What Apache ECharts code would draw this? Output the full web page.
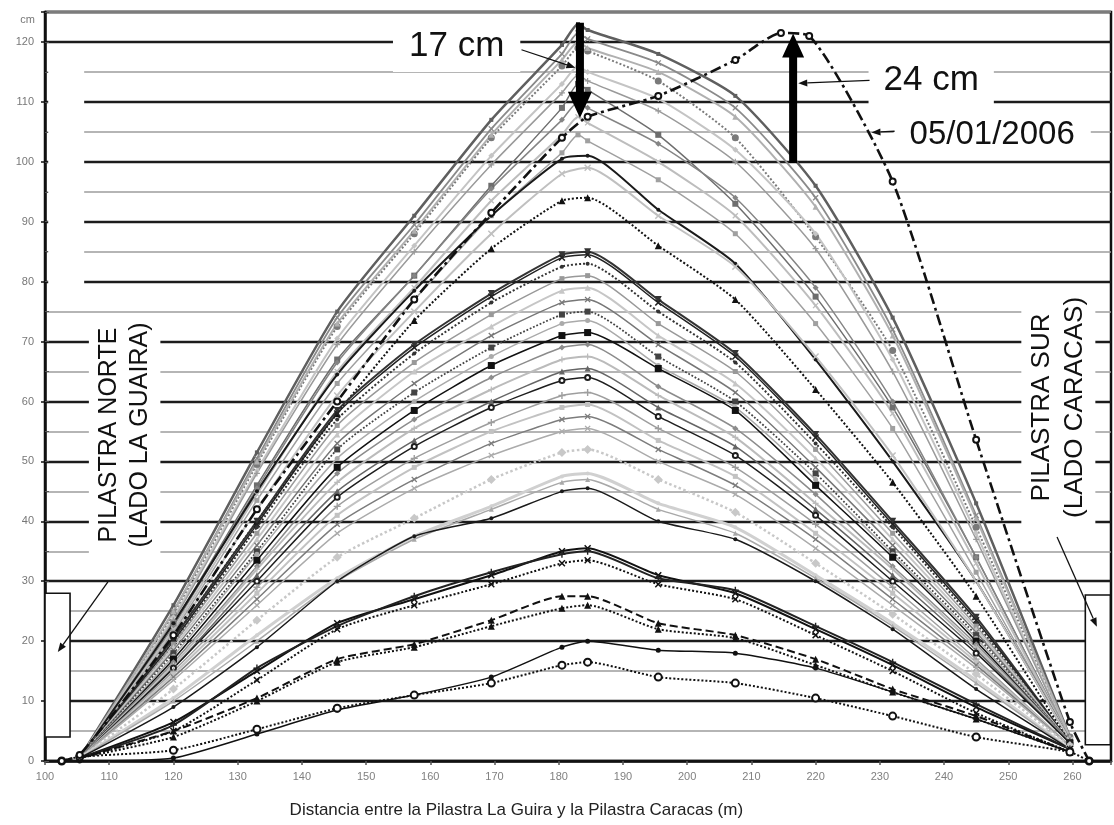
<!DOCTYPE html>
<html><head><meta charset="utf-8">
<script src="https://cdn.jsdelivr.net/npm/echarts@6/dist/echarts.min.js"></script>
<style>html,body{margin:0;padding:0;background:#fff}#c{width:1114px;height:825px}</style>
</head><body><div id="c"></div>
<script>
// ---------------- DATA ----------------
const X_POS = [102.6, 105.4, 120, 133, 145.5, 157.5, 169.5, 180.5, 183, 184.5, 195.5, 207.5, 220, 232, 245, 259.6, 262.6];
const X_TICKS = [100,110,120,130,140,150,160,170,180,190,200,210,220,230,240,250,260];
const Y_TICKS = [0,10,20,30,40,50,60,70,80,90,100,110,120];

const s01 = [null, 0.5, 26, 51.5, 75, 91, 107, 119.5, 123, 122, 118, 111, 96, 74, 43, 4, null];
const s02 = [null, 0.5, 25, 50.5, 74, 89.5, 105.5, 118, 121.5, 120.5, 116.5, 109, 94, 72, 41, 4, null];
const s03 = [null, 0.5, 24.5, 49.5, 72.5, 88, 104, 116, 119, 118.5, 113.5, 104, 87.5, 68.5, 39, 4, null];
const s04 = [null, 0.5, 25, 50, 73, 88.5, 104.5, 117, 120, 119, 115, 107.5, 92.5, 71, 40.5, 4, null];
const s05 = [null, 0.5, 23, 46, 67, 81, 96, 109, 113, 112, 104.5, 93, 77.5, 59, 34, 3.5, null];
const s06 = [null, 0.5, 24, 48.5, 70.5, 86, 101, 113, 116, 115, 110.5, 102, 88, 67, 38, 3.5, null];
const s07 = [null, 0.5, 23.5, 48, 69.5, 85, 99.5, 111.5, 114.5, 113.5, 108.5, 100, 85.5, 65, 37, 3.5, null];
const s08 = [null, 0.5, 22.5, 45.5, 66.5, 81, 95.5, 107, 110, 109, 103, 94, 79, 60, 34, 3.5, null];
const s09 = [null, 0.5, 22, 44.5, 65, 79, 93.5, 104.5, 107.5, 106.5, 100, 91, 76, 58, 33, 3.5, null];
const s10 = [null, 0.5, 21.5, 43.5, 63, 77, 91, 101.5, 104.5, 103.5, 97, 88, 73, 55.5, 31.5, 3.5, null];
const s11 = [null, 0.5, 23, 45, 64.5, 78.5, 91, 100.5, null, 101, 92, 83, 67, 50, 30, 3.5, null];
const s12 = [null, 0.5, 21, 42, 61, 75, 88, 98, null, 99, 91, 82.5, 67.5, 51, 30, 3.5, null];
const s13 = [null, 0.5, 20.5, 40, 58, 73.5, 85.5, 93.5, null, 94, 86, 77, 62, 46.5, 27.5, 3, null];
const s14 = [null, 0.5, 20.5, 40, 58.5, 69.5, 78, 84.5, null, 85, 77, 68, 54.5, 40, 24, 3, null];
const s15 = [null, 0.5, 20, 39.5, 58, 69, 77.5, 84, null, 84.5, 76.5, 67.5, 54, 39.5, 23.5, 3, null];
const s16 = [null, 0.5, 19.5, 39, 57, 68, 76.5, 82.5, null, 83, 75, 66.5, 53, 39, 23, 3, null];
const s17 = [null, 0.5, 19.5, 38, 56, 66.5, 74.5, 80.5, null, 81, 73, 65, 52, 38, 22.5, 3, null];
const s18 = [null, 0.5, 19, 37, 54.5, 65, 72.5, 78.5, null, 79, 71, 63, 50.5, 37, 22, 3, null];
const s19 = [null, 0.5, 18.5, 36, 53, 63, 71, 76.5, null, 77, 69.5, 61.5, 49, 36, 21.5, 3, null];
const s20 = [null, 0.5, 18, 35, 52, 61.5, 69, 74.5, null, 75, 67.5, 60, 48, 35, 21, 3, null];
const s21 = [null, 0.5, 17.5, 34.5, 50.5, 60, 67.5, 73, null, 73.5, 66, 59, 47, 34.5, 20.5, 3, null];
const s22 = [null, 0.5, 17, 33.5, 49, 58.5, 66, 71, null, 71.5, 65.5, 58.5, 46, 34, 20, 3, null];
const s23 = [null, 0.5, 16.5, 32.5, 48, 57, 64, 69, null, 69.5, 62.5, 55.5, 44.5, 32.5, 19.5, 3, null];
const s24 = [null, 0.5, 16, 32, 46.5, 55.5, 62, 67, null, 67.5, 61, 54, 43, 32, 19, 3, null];
const s25 = [null, 0.5, 15.5, 31, 45, 53.5, 60, 65, null, 65.5, 59, 52.5, 42, 31, 18.5, 3, null];
const s26 = [null, 0.5, 15.5, 30, 44, 52.5, 59, 63.5, null, 64, 57.5, 51, 41, 30, 18, 3, null];
const s27 = [null, 0.5, 15, 29, 42.5, 50.5, 56.5, 61, null, 61.5, 55.5, 49, 39.5, 29, 17, 2.5, null];
const s28 = [null, 0.5, 14.5, 28, 41, 49, 55, 59, null, 59.5, 53.5, 47.5, 38, 28, 16.5, 2.5, null];
const s29 = [null, 0.5, 14, 27, 39.5, 47, 53, 57, null, 57.5, 52, 46, 37, 27, 16, 2.5, null];
const s30 = [null, 0.5, 13.5, 26, 38, 45.5, 51, 55, null, 55.5, 50, 44.5, 35.5, 26, 15.5, 2.5, null];
const s31 = [null, 0.5, 12, 23.5, 34, 40.5, 47, 51.5, null, 52, 47, 41.5, 33, 24.5, 14.5, 2.5, null];
const s32 = [null, 0.5, 10.5, 21, 30.5, 37.5, 42.5, 47.5, null, 48, 43, 39, 31, 23, 13.5, 2, null];
const s33 = [null, 0.5, 10, 20, 30, 37, 42, 46.5, null, 47, 42, 38, 30.5, 22.5, 13, 2, null];
const s34 = [null, 0.5, 9, 19, 30, 37.5, 40.5, 45, null, 45.5, 40, 37, 30, 22, 12, 2, null];
const s35 = [null, 0.5, 6.5, 15, 23, 27, 31, 35, null, 35.5, 31, 28, 22, 16, 9, 2, null];
const s36 = [null, 0.5, 6, 15.5, 22.5, 27.5, 31.5, 34.5, null, 35, 30.5, 28.5, 22.5, 16.5, 9.5, 2, null];
const s37 = [null, 0.5, 5, 13.5, 22, 26, 29.5, 33, null, 33.5, 29.5, 27, 21, 15, 8, 1.5, null];
const s38 = [null, 0.5, 5, 10.5, 17, 19.5, 23.5, 27.5, null, 27.5, 23, 21, 17, 12, 7.5, 1.5, null];
const s39 = [null, 0.5, 4, 10, 16.5, 19, 22.5, 25.5, null, 26, 22, 20.5, 16, 11.5, 7, 1.5, null];
const s40 = [null, 0, 0.5, 4.5, 8.5, 11, 14, 19, null, 20, 18.5, 18, 15.5, 11.5, 7, 1.5, null];
const s41 = [0, 0.7, 1.8, 5.3, 8.8, 11, 13, 16, null, 16.5, 14, 13, 10.5, 7.5, 4, 1.5, 0];

const X_0501 = [102.6, 105.4, 120, 133, 145.5, 157.5, 169.5, 180.5, 184.5, 195.5, 207.5, 214.6, 219, 232, 245, 259.6, 262.6];
const v0501  = [0, 1, 21, 42, 60, 77, 91.5, 104, 107.5, 111, 117, 121.5, 121, 96.7, 53.6, 6.5, 0];

// ---------------- STYLES (separate from data) ----------------
const XSYM = 'path://M0,1.5L1.5,0L5,3.5L8.5,0L10,1.5L6.5,5L10,8.5L8.5,10L5,6.5L1.5,10L0,8.5L3.5,5Z';
const PSYM = 'path://M4,0H6V4H10V6H6V10H4V6H0V4H4Z';
const TDOWN = 'path://M0,0H10L5,9Z';
const SERIES_VALUES = [s01,s02,s03,s04,s05,s06,s07,s08,s09,s10,s11,s12,s13,s14,s15,s16,s17,s18,s19,s20,s21,s22,s23,s24,s25,s26,s27,s28,s29,s30,s31,s32,s33,s34,s35,s36,s37,s38,s39,s40,s41];
const STYLES = [
 ['#5f5f5f',2.5,'solid','rect',4],
 ['#8a8a8a',1.8,'solid',XSYM,6],
 ['#7a7a7a',2,'dotted','circle',7],
 ['#b0b0b0',2,'solid','triangle',6],
 ['#6e6e6e',1.5,'solid','rect',6],
 ['#c4c4c4',2,'solid','diamond',6],
 ['#9a9a9a',1.5,'solid',PSYM,6],
 ['#858585',1.5,'solid','diamond',6],
 ['#bdbdbd',2,'solid',XSYM,6],
 ['#a0a0a0',1.5,'solid','rect',5],
 ['#1a1a1a',2,'solid','circle',4],
 ['#c0c0c0',2,'solid',XSYM,7],
 ['#111111',2,'dotted','triangle',7],
 ['#333333',2,'solid',TDOWN,7],
 ['#222222',1.5,'solid',XSYM,7],
 ['#333333',2,'dotted','circle',4],
 ['#999999',1.5,'solid','rect',5],
 ['#c6c6c6',2,'solid','triangle',6],
 ['#777777',1.5,'solid',XSYM,6],
 ['#444444',1.8,'dotted','rect',6],
 ['#aaaaaa',1.5,'solid','circle',5],
 ['#111111',1.5,'solid','rect',7],
 ['#8c8c8c',1.5,'solid','diamond',6],
 ['#bbbbbb',2,'solid',PSYM,6],
 ['#666666',1.5,'solid','triangle',6],
 ['#1e1e1e',1.5,'solid','emptyCircle',5],
 ['#9e9e9e',1.5,'solid',PSYM,7],
 ['#c2c2c2',2,'solid','rect',5],
 ['#7c7c7c',1.5,'solid',XSYM,6],
 ['#ababab',1.5,'solid',XSYM,6],
 ['#c8c8c8',2.5,'dotted','diamond',9],
 ['#d0d0d0',3,'solid','circle',4],
 ['#a8a8a8',1.5,'solid','triangle',5],
 ['#1a1a1a',1.5,'solid','circle',4],
 ['#111111',2,'solid',XSYM,7],
 ['#222222',2,'solid',PSYM,7],
 ['#111111',2,'dotted',XSYM,7],
 ['#111111',2,'dashed','triangle',7],
 ['#111111',2,'dotted','triangle',7],
 ['#111111',1.5,'solid','circle',5],
 ['#111111',2,'dotted','emptyCircle',7]
];
const FONT = '"Liberation Sans", Arial, sans-serif';

function pairs(xs, ys){ const out=[]; xs.forEach((x,i)=>{ if(ys[i]!=null) out.push([x, ys[i]]); }); return out; }

const series = SERIES_VALUES.map((vals,i)=>{
  const st = STYLES[i];
  return {type:'line', name:'S'+(i+1), data:pairs(X_POS, vals), smooth:0.2,
    symbol:st[3], symbolSize:st[4], showSymbol:true, silent:true,
    lineStyle:{color:st[0], width:st[1], type:st[2]},
    itemStyle:{color:st[0]}, z:2};
});
series.push({type:'line', name:'05/01/2006', data:pairs(X_0501, v0501), smooth:0.2,
  symbol:'emptyCircle', symbolSize:6, silent:true,
  lineStyle:{color:'#111', width:2.6, type:[11,4,3,4]}, itemStyle:{color:'#111'}, z:3});

const chart = echarts.init(document.getElementById('c'));
chart.setOption({
  animation:false,
  backgroundColor:'#fff',
  grid:{left:45, right:0, top:12, bottom:64, show:true, borderColor:'#111', borderWidth:2.5, containLabel:false},
  xAxis:{type:'value', min:100, max:266, interval:10,
    axisLine:{show:true, onZero:false, lineStyle:{color:'#111', width:2.5}},
    axisTick:{show:true, length:4, lineStyle:{color:'#555', width:1.5}},
    axisLabel:{color:'#808080', fontSize:11, fontFamily:FONT, margin:10,
      formatter:v=> X_TICKS.indexOf(v)>=0 ? String(v) : ''},
    splitLine:{show:false}},
  yAxis:[
    {type:'value', min:0, max:125, interval:10,
     axisLine:{show:true, lineStyle:{color:'#111', width:2.5}},
     axisTick:{show:true, length:4, lineStyle:{color:'#111', width:1.5}},
     axisLabel:{color:'#777', fontSize:11, fontFamily:FONT, margin:11,
       formatter:v=> Y_TICKS.indexOf(v)>=0 ? String(v) : ''},
     splitLine:{show:true, lineStyle:{color:'#1c1c1c', width:2.3}}},
    {type:'value', min:0, max:125, interval:5, position:'left',
     axisLine:{show:false}, axisLabel:{show:false},
     axisTick:{show:true, inside:true, length:4, lineStyle:{color:'#555', width:1}},
     splitLine:{show:true, lineStyle:{color:['rgba(0,0,0,0)','#9c9c9c'], width:1.6}}}
  ],
  series:series
});

// ---------------- ANNOTATIONS ----------------
const P = (x,y)=>chart.convertToPixel({gridIndex:0},[x,y]);
const g = [];
// white gap in grid lines near upper-left axis
(function(){ const a=P(100.5,118.4), b=P(106.1,76.3);
  g.push({type:'rect', shape:{x:a[0], y:a[1], width:b[0]-a[0], height:b[1]-a[1]}, style:{fill:'#fff'}, z:1}); })();

function box(x1,y1,x2,y2){ const a=P(x1,y2), b=P(x2,y1);
  g.push({type:'rect', shape:{x:a[0], y:a[1], width:b[0]-a[0], height:b[1]-a[1]}, style:{fill:'#fff', stroke:'#111', lineWidth:1.6}, z:12}); }
box(100, 4, 103.9, 28);
box(262, 2.7, 265.9, 27.7);

function thinArrow(x1,y1,x2,y2){
  const a=P(x1,y1), b=P(x2,y2);
  const dx=b[0]-a[0], dy=b[1]-a[1], L=Math.hypot(dx,dy), ux=dx/L, uy=dy/L;
  const hl=9, hw=3.5;
  const bx=b[0]-ux*hl, by=b[1]-uy*hl;
  g.push({type:'line', shape:{x1:a[0], y1:a[1], x2:bx, y2:by}, style:{stroke:'#111', lineWidth:1.3}, z:20});
  g.push({type:'polygon', shape:{points:[[b[0],b[1]],[bx-uy*hw,by+ux*hw],[bx+uy*hw,by-ux*hw]]}, style:{fill:'#111'}, z:20});
}
function thickArrow(x, yFrom, yBase, yTip, shaftHalf, headHalf){
  const f=P(x,yFrom), bs=P(x,yBase), t=P(x,yTip); const cx=f[0];
  g.push({type:'polygon', shape:{points:[[cx-shaftHalf,f[1]],[cx+shaftHalf,f[1]],[cx+shaftHalf,bs[1]],[cx+headHalf,bs[1]],[cx,t[1]],[cx-headHalf,bs[1]],[cx-shaftHalf,bs[1]]]}, style:{fill:'#000'}, z:21});
}
thickArrow(183.3, 123.2, 111.7, 107.3, 4, 12);
thickArrow(216.5, 99.8, 117.4, 121.4, 4, 11);

function label(x,y,text,size,pad,rot){
  const a=P(x,y);
  g.push({type:'text', x:a[0], y:a[1], rotation:rot||0, z:15,
    style:{text:text, fontSize:size, fontFamily:FONT, fill:'#111', align:'center', verticalAlign:'middle',
      backgroundColor:'#fff', padding:pad, lineHeight:size*1.27}});
}
label(164.1, 119.2, '17 cm', 35, [3,16]);
label(238.0, 113.6, '24 cm', 35, [4,15]);
label(247.5, 104.5, '05/01/2006', 33, [4,16]);
label(112.4, 54.4, 'PILASTRA NORTE\n(LADO LA GUAIRA)', 25, [4,8], Math.PI/2);
label(257.8, 59.0, 'PILASTRA SUR\n(LADO CARACAS)', 26, [4,8], Math.PI/2);

thinArrow(174.2, 118.7, 182.6, 115.7);
thinArrow(228.4, 113.6, 217.3, 113.1);
thinArrow(232.3, 105.1, 228.7, 104.9);
thinArrow(109.8, 29.9, 102.0, 18.2);
thinArrow(257.6, 37.4, 263.8, 22.4);

// 'cm' unit label and axis title
(function(){ const a=P(100,123.6);
  g.push({type:'text', x:a[0]-10, y:a[1], z:15, style:{text:'cm', fontSize:11, fontFamily:FONT, fill:'#777', align:'right', verticalAlign:'middle'}});
  const b=P(173.4,0);
  g.push({type:'text', x:b[0], y:b[1]+49, z:15, style:{text:'Distancia entre la Pilastra La Guira y la Pilastra Caracas (m)', fontSize:17, fontFamily:FONT, fill:'#222', align:'center', verticalAlign:'middle'}});
})();

chart.setOption({graphic:{elements:g}});
</script>
</body></html>
